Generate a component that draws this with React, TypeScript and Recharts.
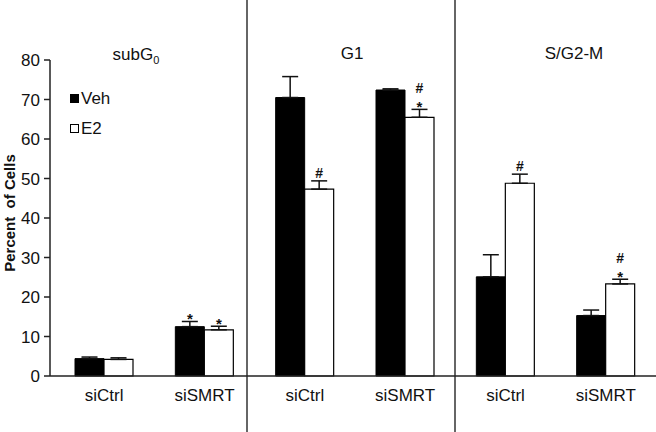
import React from "react";
import { BarChart, Bar, XAxis, YAxis, ErrorBar, LabelList, Customized } from "recharts";

const categories = ["siCtrl", "siSMRT", "siCtrl", "siSMRT", "siCtrl", "siSMRT"];
const vehValues = [4.4, 12.5, 70.5, 72.4, 25.1, 15.3];
const vehErrors = [0.4, 1.3, 5.3, 0.3, 5.6, 1.4];
const e2Values = [4.2, 11.7, 47.3, 65.5, 48.8, 23.3];
const e2Errors = [0.4, 0.9, 2.1, 2.0, 2.3, 1.2];
const vehMarks = ["", "*", "", "", "", ""];
const e2Marks = ["", "*", "#", "#*", "#", "#*"];
const yTicks = [0, 10, 20, 30, 40, 50, 60, 70, 80];
const seriesNames = ["Veh", "E2"];
const yTitle = "Percent  of Cells";

const data = categories.map((c, i) => ({
  idx: i,
  veh: vehValues[i],
  vehErr: [0, vehErrors[i]],
  e2: e2Values[i],
  e2Err: [0, e2Errors[i]],
}));

const FONT = "'Liberation Sans', Arial, Helvetica, sans-serif";
const W = 656;
const H = 432;

const makeMarks = (marks: string[], errs: number[], vals: number[]) => (props: any) => {
  const { x, y, width, height, value } = props;
  const i = Number(value);
  const m = marks[i];
  if (!m) return null;
  const ppu = Number(height) / vals[i];
  const top = Number(y) - errs[i] * ppu;
  const cx = Number(x) + Number(width) / 2;
  const hasStar = m.includes("*");
  const hasHash = m.includes("#");
  return (
    <g>
      {hasStar && (
        <text x={cx} y={top + 3} textAnchor="middle" fontSize={15} fontWeight="bold" fill="#111" fontFamily={FONT}>
          *
        </text>
      )}
      {hasHash && (
        <text x={cx} y={hasStar ? top - 16 : top - 3} textAnchor="middle" fontSize={14} fontWeight="bold" fill="#111" fontFamily={FONT}>
          #
        </text>
      )}
    </g>
  );
};

const Decorations = () => (
  <g fontFamily={FONT} fill="#111">
    <line x1={247} y1={0} x2={247} y2={H} stroke="#333" strokeWidth={1.5} />
    <line x1={455} y1={0} x2={455} y2={H} stroke="#333" strokeWidth={1.5} />
    <text x={136} y={60} textAnchor="middle" fontSize={17}>
      subG<tspan fontSize={11} dy={4}>0</tspan>
    </text>
    <text x={352} y={59} textAnchor="middle" fontSize={17}>G1</text>
    <text x={574} y={59} textAnchor="middle" fontSize={17}>S/G2-M</text>
    <text
      x={15}
      y={213}
      transform="rotate(-90, 15, 213)"
      textAnchor="middle"
      fontSize={15}
      fontWeight="bold"
      style={{ whiteSpace: "pre" }}
    >
      {yTitle}
    </text>
    {seriesNames.map((n, i) => (
      <g key={n}>
        <rect x={70.5} y={94.5 + i * 30} width={8} height={8} fill={i === 0 ? "#000" : "#fff"} stroke="#000" strokeWidth={1} />
        <text x={81} y={104 + i * 30} fontSize={17}>{n}</text>
      </g>
    ))}
  </g>
);

export default function App() {
  return (
    <div style={{ position: "absolute", left: 0, top: 0, width: W, height: H, background: "#fff" }}>
      <BarChart
        width={W}
        height={H}
        data={data}
        margin={{ top: 60, right: 0, bottom: 0, left: 0 }}
        barGap={0}
        barSize={29}
      >
        <XAxis
          dataKey="idx"
          type="category"
          tickFormatter={(v: any) => categories[Number(v)]}
          tickLine={false}
          tickSize={0}
          tickMargin={13}
          axisLine={{ stroke: "#222", strokeWidth: 1.5 }}
          tick={{ fontSize: 17, fill: "#111", fontFamily: FONT }}
          padding={{ left: 4, right: 0 }}
          height={56}
        />
        <YAxis
          domain={[0, 80]}
          ticks={yTicks}
          width={50}
          tickSize={6}
          tickMargin={4}
          axisLine={{ stroke: "#222", strokeWidth: 1.5 }}
          tickLine={{ stroke: "#222", strokeWidth: 1.5 }}
          tick={{ fontSize: 17, fill: "#111", fontFamily: FONT }}
        />
        <Bar dataKey="veh" name="Veh" fill="#000" stroke="#000" strokeWidth={1} isAnimationActive={false}>
          <ErrorBar dataKey="vehErr" direction="y" width={8} stroke="#111" strokeWidth={1.5} />
          <LabelList dataKey="idx" content={makeMarks(vehMarks, vehErrors, vehValues)} />
        </Bar>
        <Bar dataKey="e2" name="E2" fill="#fff" stroke="#000" strokeWidth={1.2} isAnimationActive={false}>
          <ErrorBar dataKey="e2Err" direction="y" width={8} stroke="#111" strokeWidth={1.5} />
          <LabelList dataKey="idx" content={makeMarks(e2Marks, e2Errors, e2Values)} />
        </Bar>
        <Customized component={Decorations} />
      </BarChart>
    </div>
  );
}
